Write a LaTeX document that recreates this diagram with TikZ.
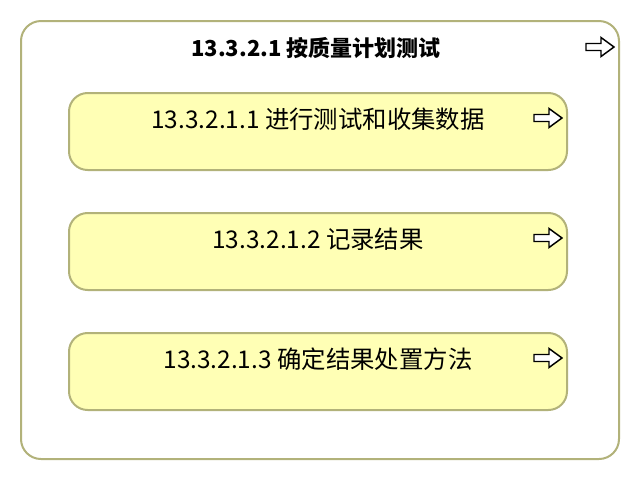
\documentclass[tikz,border=0pt]{standalone}
\usepackage{fontspec}
\setmainfont{Noto Sans CJK SC}
\usetikzlibrary{positioning}
\definecolor{boxline}{RGB}{178,178,122}
\definecolor{boxfill}{RGB}{255,255,181}
\tikzset{
  outerbox/.style={draw=boxline, line width=1.5pt, fill=white, rounded corners=15pt,
    minimum width=448.5pt, minimum height=328.5pt, inner sep=0pt},
  taskbox/.style={draw=boxline, line width=1.5pt, fill=boxfill, rounded corners=14pt,
    minimum width=373.5pt, minimum height=57.75pt, inner sep=0pt},
  boxtitle/.style={font=\fontsize{16.5}{19}\selectfont\bfseries, inner sep=0pt},
  boxtext/.style={font=\fontsize{18.3}{21}\selectfont, inner sep=0pt},
  navarrow/.pic={\draw[line width=1.1pt, fill=white] (-14,-3.5) -- (1,-3.5) -- (1,-9.5)
    -- (14,0) -- (1,9.5) -- (1,3.5) -- (-14,3.5) -- cycle;}
}
\begin{document}
\begin{tikzpicture}[x=0.75pt, y=-0.75pt]
\useasboundingbox (0,0) rectangle (640,480);

%Outer process
\node[outerbox] (plan) at (320,240) {};
\node[boxtitle] (plantitle) at (316,48) {13.3.2.1 按质量计划测试};
\pic at ([xshift=-15pt,yshift=-20.25pt]plan.north east) {navarrow};

%Sub processes
\foreach \i/\y/\txt in {1/131.5/{13.3.2.1.1 进行测试和收集数据},
                        2/251.5/{13.3.2.1.2 记录结果},
                        3/371.5/{13.3.2.1.3 确定结果处置方法}}
{
  \node[taskbox] (task\i) at (318,\y) {};
  \node[boxtext] (task\i text) at ([yshift=-20.25pt]task\i.north) {\txt};
  \pic at ([xshift=-15pt,yshift=-19.5pt]task\i.north east) {navarrow};
}

\end{tikzpicture}
\end{document}
